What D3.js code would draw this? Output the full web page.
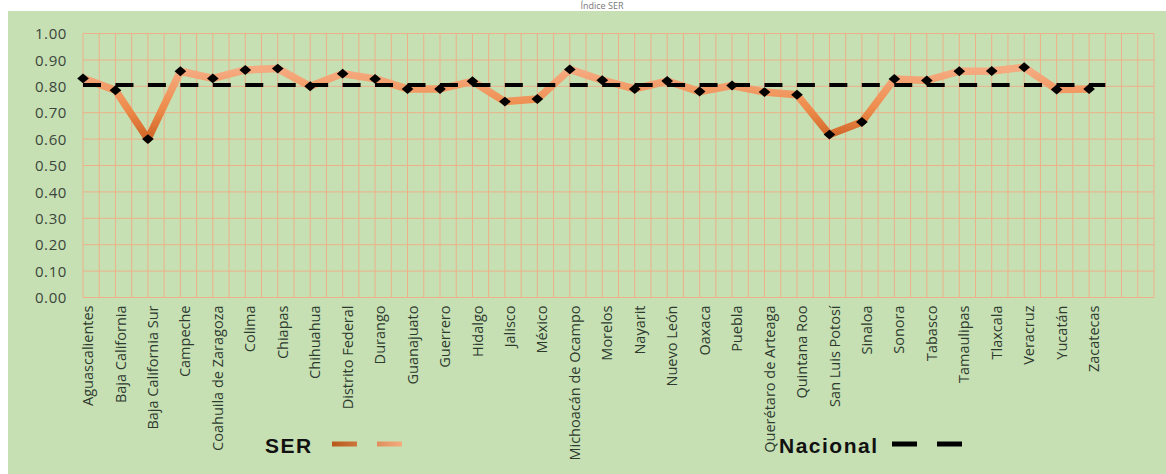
<!DOCTYPE html>
<html>
<head>
<meta charset="utf-8">
<script src="https://cdn.jsdelivr.net/npm/d3@7"></script>
<style>
  html, body { margin: 0; padding: 0; background: #ffffff; }
  svg { display: block; }
</style>
</head>
<body>
<svg id="chart" width="1166" height="474"></svg>
<script>
const states = ["Aguascalientes","Baja California","Baja California Sur","Campeche","Coahuila de Zaragoza","Colima","Chiapas","Chihuahua","Distrito Federal","Durango","Guanajuato","Guerrero","Hidalgo","Jalisco","México","Michoacán de Ocampo","Morelos","Nayarit","Nuevo León","Oaxaca","Puebla","Querétaro de Arteaga","Quintana Roo","San Luis Potosí","Sinaloa","Sonora","Tabasco","Tamaulipas","Tlaxcala","Veracruz","Yucatán","Zacatecas"];
const serValues = [0.83,0.785,0.60,0.857,0.83,0.862,0.867,0.80,0.848,0.828,0.79,0.79,0.819,0.742,0.752,0.864,0.823,0.79,0.82,0.78,0.803,0.778,0.768,0.617,0.665,0.828,0.822,0.857,0.858,0.872,0.788,0.79];
const nacionalValue = 0.805;
const yTicks = [0,0.1,0.2,0.3,0.4,0.5,0.6,0.7,0.8,0.9,1.0];
const slotCount = 33;
const titleText = "Índice SER";

const svg = d3.select("#chart");
const W = 1166, H = 474;
const plot = {left: 83, right: 1154, top: 33.5, bottom: 297.5};

// background frame
svg.append("rect").attr("x", 8).attr("y", 11).attr("width", W - 8).attr("height", H - 11).attr("fill", "#c6e0b4");

// title (in the white strip above the frame)
svg.append("text").attr("x", 602).attr("y", 9).attr("text-anchor", "middle")
  .attr("font-family", "Open Sans").attr("font-size", 9).attr("fill", "#777").text(titleText);

const x = d3.scaleLinear().domain([0, slotCount]).range([plot.left, plot.right]);
const y = d3.scaleLinear().domain([0, 1]).range([plot.bottom, plot.top]);

// gridlines
const grid = svg.append("g").attr("stroke", "#eeb088").attr("stroke-width", 1);
const halfSteps = d3.range(0, slotCount + 0.001, 0.5);
grid.selectAll("line.v").data(halfSteps).join("line")
  .attr("x1", d => x(d)).attr("x2", d => x(d)).attr("y1", y(1)).attr("y2", y(0));
grid.selectAll("line.h").data(yTicks).join("line")
  .attr("x1", x(0)).attr("x2", x(slotCount)).attr("y1", d => y(d)).attr("y2", d => y(d));

// y axis labels
const yAxis = d3.axisLeft(y).tickValues(yTicks).tickFormat(d3.format(".2f")).tickSize(0).tickPadding(0);
const yg = svg.append("g").attr("transform", `translate(${plot.left - 16},0)`).call(yAxis);
yg.select(".domain").remove();
yg.selectAll("text").attr("font-family", "Open Sans").attr("font-size", 15)
  .attr("fill", "#3b463b").attr("letter-spacing", "0.6px").attr("font-weight", 500).attr("dy", "0.35em");

// x axis labels
const xg = svg.append("g");
xg.selectAll("text").data(states).join("text")
  .attr("transform", (d, i) => `translate(${x(i) + 5},${plot.bottom + 8}) rotate(-90)`)
  .attr("text-anchor", "end").attr("dy", "0.35em")
  .attr("font-family", "Open Sans").attr("font-size", 14.5).attr("fill", "#2e3a2e")
  .text(d => d);

// gradients
const defs = svg.append("defs");
const grad = defs.append("linearGradient").attr("id", "serGrad")
  .attr("gradientUnits", "userSpaceOnUse").attr("x1", 0).attr("x2", 0)
  .attr("y1", y(0.86)).attr("y2", y(0.6));
grad.append("stop").attr("offset", "0%").attr("stop-color", "#f5aa80");
grad.append("stop").attr("offset", "55%").attr("stop-color", "#ee8c4c");
grad.append("stop").attr("offset", "100%").attr("stop-color", "#cf6426");

const legX0 = 332, legX1 = 403;
const legGrad = defs.append("linearGradient").attr("id", "legGrad")
  .attr("gradientUnits", "userSpaceOnUse")
  .attr("x1", legX0).attr("x2", legX1).attr("y1", 0).attr("y2", 0);
legGrad.append("stop").attr("offset", "0%").attr("stop-color", "#b8581a");
legGrad.append("stop").attr("offset", "100%").attr("stop-color", "#f6ad80");

// SER line
const line = d3.line().x((d, i) => x(i)).y(d => y(d));
svg.append("path").datum(serValues).attr("d", line)
  .attr("fill", "none").attr("stroke", "url(#serGrad)").attr("stroke-width", 7.5)
  .attr("stroke-linejoin", "round");

// Nacional dashed line
const nacData = [{i: 0, v: nacionalValue}, {i: states.length - 0.5, v: nacionalValue}];
svg.append("path").datum(nacData)
  .attr("d", d3.line().x(d => x(d.i)).y(d => y(d.v)))
  .attr("fill", "none").attr("stroke", "#000").attr("stroke-width", 4)
  .attr("stroke-dasharray", "18,14.45");

// markers
svg.append("g").selectAll("path").data(serValues).join("path")
  .attr("d", d3.symbol().type(d3.symbolSquare).size(68))
  .attr("transform", (d, i) => `translate(${x(i)},${y(d)}) scale(1,0.85) rotate(45)`)
  .attr("fill", "#000");

// legend
const leg = svg.append("g").attr("font-family", "Liberation Sans, Arial, sans-serif")
  .attr("font-weight", "bold").attr("font-size", 21).attr("fill", "#111");
leg.append("text").attr("x", 265).attr("y", 453).attr("letter-spacing", "1.5px").text("SER");
leg.append("line").attr("x1", legX0).attr("x2", legX1).attr("y1", 444).attr("y2", 444)
  .attr("stroke", "url(#legGrad)").attr("stroke-width", 5).attr("stroke-dasharray", "25,20");
leg.append("text").attr("x", 779).attr("y", 453).attr("letter-spacing", "1.5px").text("Nacional");
leg.append("line").attr("x1", 892).attr("x2", 963).attr("y1", 444).attr("y2", 444)
  .attr("stroke", "#000").attr("stroke-width", 5).attr("stroke-dasharray", "25,20");
</script>
</body>
</html>
